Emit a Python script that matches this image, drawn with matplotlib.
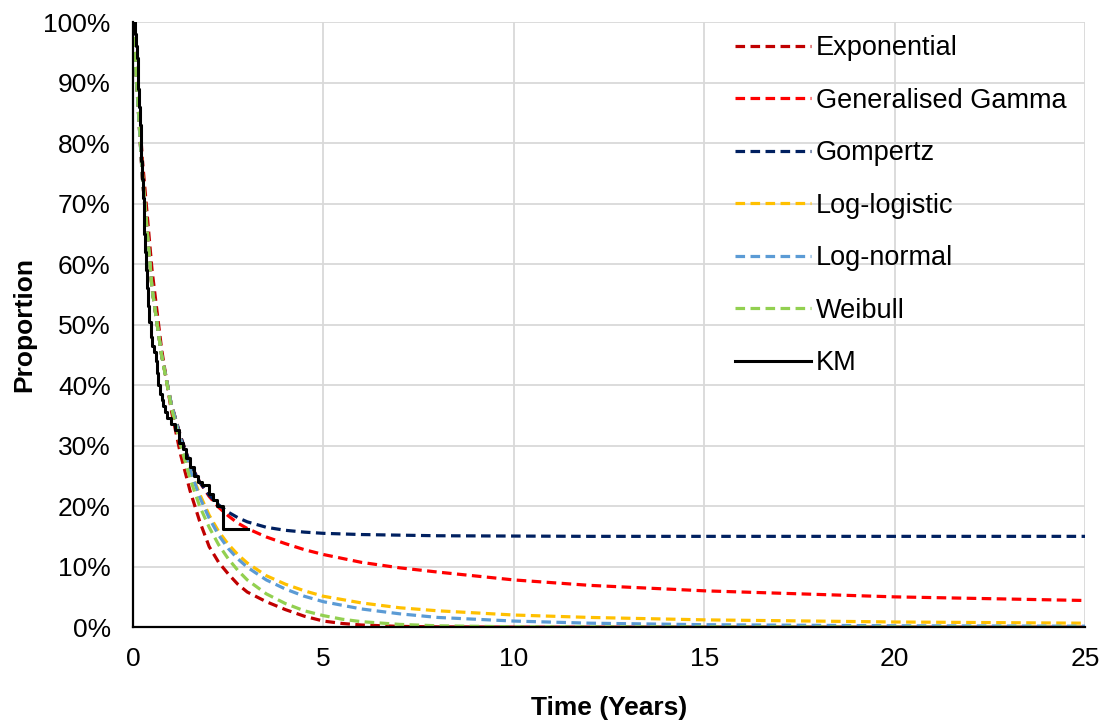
import numpy as np
import matplotlib
matplotlib.use("Agg")
from matplotlib import pyplot as plt
from matplotlib.ticker import FuncFormatter

plt.rcParams['font.family'] = ['Liberation Sans', 'DejaVu Sans']

# time grids (years) and survival values (%)
t_short = [0, 0.25, 0.5, 0.75, 1, 1.25, 1.5, 1.75, 2, 2.25, 2.5, 2.75, 3, 3.5, 4, 4.5, 5, 5.5, 6, 7, 8, 10, 25]
s_exp = [100, 77, 59, 46, 36, 28.5, 22.5, 17.5, 13.3, 10.7, 8.8, 7.1, 5.8, 4.2, 2.9, 1.8, 1.0, 0.6, 0.35, 0.12, 0.04, 0, 0]
s_wei = [100, 75, 56, 45, 36.5, 30, 24.5, 20, 16.5, 13.6, 11.3, 9.4, 7.8, 5.5, 3.9, 2.7, 1.9, 1.3, 0.9, 0.45, 0.22, 0.05, 0]

t_long = [0, 0.25, 0.5, 0.75, 1, 1.25, 1.5, 1.75, 2, 2.25, 2.5, 2.75, 3, 3.5, 4, 4.5, 5, 6, 7, 8, 10, 12, 15, 20, 25]
s_lnorm = [100, 74, 56, 45, 37, 31, 26, 21.5, 18, 15.2, 13, 11.3, 9.9, 7.8, 6.3, 5.1, 4.2,
           3.0, 2.2, 1.6, 1.0, 0.65, 0.4, 0.22, 0.15]
s_llog = [100, 74, 56, 45, 37, 31, 26, 22, 18.5, 15.8, 13.7, 12, 10.6, 8.5, 7.1, 6.0, 5.1,
          4.0, 3.2, 2.7, 2.0, 1.6, 1.2, 0.85, 0.65]
s_gomp = [100, 74, 56, 45, 37, 31.5, 27, 24, 21.8, 20.2, 19, 18.1, 17.4, 16.5, 16, 15.7, 15.5,
          15.3, 15.2, 15.1, 15.05, 15, 15, 15, 15]
s_ggam = [100, 74, 56, 45, 37, 31.5, 27, 24, 21.6, 19.8, 18.4, 17.2, 16.3, 14.9, 13.8, 12.8, 12,
          10.7, 9.8, 9.1, 7.8, 6.9, 6.0, 5.0, 4.4]

# Kaplan-Meier steps
t_km = [0, 0.05, 0.08, 0.1, 0.12, 0.14, 0.16, 0.18, 0.2, 0.22, 0.24, 0.26, 0.28, 0.3, 0.32, 0.34,
        0.37, 0.4, 0.43, 0.46, 0.5, 0.55, 0.6, 0.63, 0.66, 0.7, 0.75, 0.8, 0.85, 0.9, 1.0, 1.1,
        1.2, 1.3, 1.4, 1.5, 1.6, 1.7, 1.8, 1.9, 2.0, 2.1, 2.2, 2.36, 3.02]
s_km = [100, 98, 96, 94, 92, 89, 86, 83, 80, 77, 74, 71, 68, 65, 62, 59,
        56, 53, 50.5, 48, 46.5, 45.5, 44, 42, 40, 38.5, 37.5, 36.5, 35.5, 34.5, 33.5, 32.5,
        30.5, 29.5, 28, 26.5, 25, 24, 23.5, 23.5, 22, 21, 20, 16.2, 16.2]

fig = plt.figure(figsize=(11.01, 7.2), dpi=100)
ax = fig.add_axes([0.1208, 0.129, 0.8647, 0.8404])

dash = (3, 1.7)
lw = 2.3
ax.plot(t_short, s_exp, color='#C00000', lw=lw, dashes=dash, label='Exponential')
ax.plot(t_long, s_ggam, color='#FF0000', lw=lw, dashes=dash, label='Generalised Gamma')
ax.plot(t_long, s_gomp, color='#002060', lw=lw, dashes=dash, label='Gompertz')
ax.plot(t_long, s_llog, color='#FFC000', lw=lw, dashes=dash, label='Log-logistic')
ax.plot(t_long, s_lnorm, color='#5B9BD5', lw=lw, dashes=dash, label='Log-normal')
ax.plot(t_short, s_wei, color='#92D050', lw=lw, dashes=dash, label='Weibull')
ax.plot(t_km, s_km, color='black', lw=2.2, drawstyle='steps-post', label='KM')

ax.set_xlim(0, 25)
ax.set_ylim(0, 100)
ax.set_xticks([0, 5, 10, 15, 20, 25])
ax.set_yticks(np.arange(0, 101, 10))
ax.yaxis.set_major_formatter(FuncFormatter(lambda v, p: '%d%%' % v))
ax.tick_params(length=0, labelsize=19)
ax.tick_params(axis='y', pad=16)
ax.tick_params(axis='x', pad=14)
ax.grid(True, color='#D9D9D9', lw=1.3)
ax.set_axisbelow(True)
for s in ['top', 'right']:
    ax.spines[s].set_visible(False)
for s in ['left', 'bottom']:
    ax.spines[s].set_linewidth(1.6)
    ax.spines[s].set_zorder(5)

ax.set_xlabel('Time (Years)', fontsize=19, fontweight='bold', labelpad=18)
ax.set_ylabel('Proportion', fontsize=19, fontweight='bold', labelpad=5)

leg = ax.legend(loc='upper left', bbox_to_anchor=(735 / 1101, 1 - 35 / 720),
                bbox_transform=fig.transFigure, frameon=False, fontsize=19.5,
                borderpad=0, borderaxespad=0,
                handlelength=2.8, handletextpad=0.18, labelspacing=0.98)

fig.savefig('out.png', dpi=100)
